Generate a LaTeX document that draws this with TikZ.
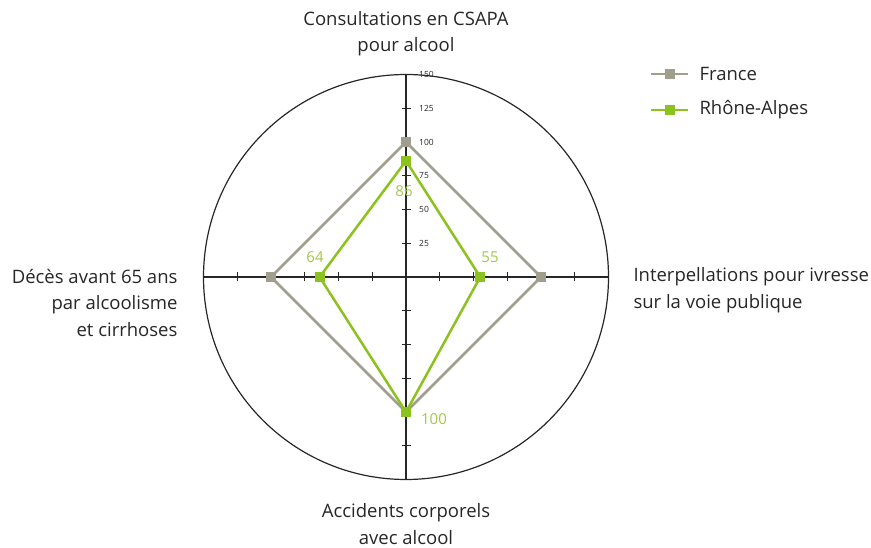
\documentclass[tikz,border=0pt]{standalone}
\usepackage{fontspec}
\setmainfont{Open Sans}
\definecolor{france}{RGB}{160,158,140}
\definecolor{rhone}{RGB}{140,194,30}
\definecolor{rhonetxt}{RGB}{160,200,70}
\begin{document}
\begin{tikzpicture}[x=1pt,y=1pt,
	axe/.style={line width=1.2pt,black!85},
	pt/.style={fill=#1,minimum size=10pt,inner sep=0pt},
	valeur/.style={text=rhonetxt,font=\fontsize{15}{15}\selectfont},
	titre/.style={text=black!85,font=\fontsize{18.5}{26.5}\selectfont}]
	\useasboundingbox (0,0) rectangle (871,547);
	\coordinate (o) at (406,270);
	% cercle et axes
	\draw[axe] (o) circle (202.5);
	\draw[axe] (203.5,270) -- (608.5,270);
	\draw[axe] (406,67.5) -- (406,472.5);
	\foreach \v in {25,50,...,125}{
		\draw[axe] (406+\v*1.35,265.5) -- ++(0,9);
		\draw[axe] (406-\v*1.35,265.5) -- ++(0,9);
		\draw[axe] (401.5,270+\v*1.35) -- ++(9,0);
		\draw[axe] (401.5,270-\v*1.35) -- ++(9,0);
	}
	\foreach \v in {25,50,...,150}
		\node[right,inner sep=0pt,text=black!85,font=\fontsize{8.5}{8.5}\selectfont] (g\v) at (419,270+\v*1.35) {\v};
	% France
	\coordinate (fa) at (406,405);
	\coordinate (fb) at (541,270);
	\coordinate (fc) at (406,135);
	\coordinate (fd) at (271,270);
	\draw[france,line width=2.5pt,line join=round] (fa) -- (fb) -- (fc) -- (fd) -- cycle;
	\foreach \p in {fa,fb,fc,fd}
		\node[pt=france] (m\p) at (\p) {};
	% Rhone-Alpes
	\coordinate (ra) at (406,386.1);
	\coordinate (rb) at (480.25,270);
	\coordinate (rc) at (406,135);
	\coordinate (rd) at (319.6,270);
	\draw[rhone,line width=2.5pt,line join=round] (ra) -- (rb) -- (rc) -- (rd) -- cycle;
	\foreach \p in {ra,rb,rc,rd}
		\node[pt=rhone] (m\p) at (\p) {};
	\node[valeur] (va) at (404,356) {86};
	\node[valeur] (vb) at (490,290) {55};
	\node[valeur] (vc) at (434,128) {100};
	\node[valeur] (vd) at (315,290) {64};
	% titres
	\node[titre,align=center] (ta) at (406,513.5) {Consultations en CSAPA\\pour alcool};
	\node[titre,align=left,anchor=west] (tb) at (630,257) {Interpellations pour ivresse\\sur la voie publique};
	\node[titre,align=center,inner sep=1pt] (tc) at (406,23) {Accidents corporels\\avec alcool};
	\node[titre,align=right,anchor=east] (td) at (181,244) {Décès avant 65 ans\\par alcoolisme\\et cirrhoses};
	% legende
	\coordinate (la) at (651,473);
	\coordinate (lb) at (688,473);
	\draw[france,line width=2pt] (la) -- (lb);
	\node[pt=france] (lfr) at (669.5,473) {};
	\node[titre,anchor=west] (tfr) at (696,473) {France};
	\coordinate (lc) at (651,437);
	\coordinate (ld) at (688,437);
	\draw[rhone,line width=2pt] (lc) -- (ld);
	\node[pt=rhone] (lrh) at (669.5,437) {};
	\node[titre,anchor=west] (trh) at (696,437) {Rhône-Alpes};
\end{tikzpicture}
\end{document}
